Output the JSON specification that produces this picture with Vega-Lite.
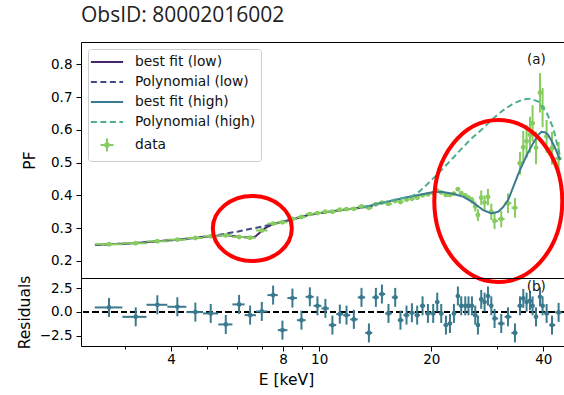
{
  "$schema": "https://vega.github.io/schema/vega-lite/v6.json",
  "padding": {"left": 16, "top": 4, "right": 0, "bottom": 0},
  "bounds": "flush",
  "title": {"text": "ObsID: 80002016002", "anchor": "start", "frame": "group", "font": "Open Sans", "fontSize": 21, "fontWeight": "normal", "color": "#222222", "offset": 16},
  "spacing": 0,
  "datasets": {
    "pts": [
      {"E": 2.725, "Elo": 2.495, "Ehi": 2.96, "pf": 0.251, "err": 0.003, "res": 0.46, "rerr": 1},
      {"E": 3.215, "Elo": 2.96, "Ehi": 3.437, "pf": 0.254, "err": 0.003, "res": -0.53, "rerr": 1},
      {"E": 3.675, "Elo": 3.437, "Ehi": 3.91, "pf": 0.26, "err": 0.003, "res": 0.74, "rerr": 1},
      {"E": 4.159, "Elo": 3.91, "Ehi": 4.397, "pf": 0.265, "err": 0.003, "res": 0.53, "rerr": 1},
      {"E": 4.649, "Elo": 4.397, "Ehi": 4.876, "pf": 0.27, "err": 0.003, "res": -0.03, "rerr": 1},
      {"E": 5.113, "Elo": 4.876, "Ehi": 5.357, "pf": 0.275, "err": 0.003, "res": -0.17, "rerr": 1},
      {"E": 5.612, "Elo": 5.357, "Ehi": 5.847, "pf": 0.278, "err": 0.003, "res": -1.33, "rerr": 1},
      {"E": 6.093, "Elo": 5.847, "Ehi": 6.304, "pf": 0.273, "err": 0.003, "res": 0.78, "rerr": 1},
      {"E": 6.522, "Elo": 6.304, "Ehi": 6.763, "pf": 0.271, "err": 0.003, "res": -0.35, "rerr": 1},
      {"E": 7.012, "Elo": 6.763, "Ehi": 7.262, "pf": 0.293, "err": 0.004, "res": 0.04, "rerr": 1},
      {"E": 7.52, "Elo": 7.262, "Ehi": 7.74, "pf": 0.314, "err": 0.004, "res": 1.76, "rerr": 1},
      {"E": 7.966, "Elo": 7.74, "Ehi": 8.215, "pf": 0.318, "err": 0.004, "res": -1.93, "rerr": 1},
      {"E": 8.474, "Elo": 8.215, "Ehi": 8.714, "pf": 0.328, "err": 0.004, "res": 1.45, "rerr": 1},
      {"E": 8.96, "Elo": 8.714, "Ehi": 9.196, "pf": 0.334, "err": 0.004, "res": -0.88, "rerr": 1},
      {"E": 9.438, "Elo": 9.196, "Ehi": 9.662, "pf": 0.343, "err": 0.004, "res": 1.58, "rerr": 1},
      {"E": 9.892, "Elo": 9.662, "Ehi": 10.14, "pf": 0.346, "err": 0.004, "res": 0.63, "rerr": 1},
      {"E": 10.39, "Elo": 10.14, "Ehi": 10.62, "pf": 0.35, "err": 0.004, "res": 0.36, "rerr": 1},
      {"E": 10.85, "Elo": 10.62, "Ehi": 11.11, "pf": 0.35, "err": 0.004, "res": -1.4, "rerr": 1},
      {"E": 11.36, "Elo": 11.11, "Ehi": 11.6, "pf": 0.356, "err": 0.004, "res": -0.24, "rerr": 1},
      {"E": 11.84, "Elo": 11.6, "Ehi": 12.11, "pf": 0.358, "err": 0.004, "res": -0.35, "rerr": 1},
      {"E": 12.39, "Elo": 12.11, "Ehi": 12.69, "pf": 0.359, "err": 0.004, "res": -0.8, "rerr": 1},
      {"E": 12.99, "Elo": 12.69, "Ehi": 13.29, "pf": 0.366, "err": 0.004, "res": 1.52, "rerr": 1},
      {"E": 13.6, "Elo": 13.29, "Ehi": 13.89, "pf": 0.362, "err": 0.004, "res": -2.22, "rerr": 1},
      {"E": 14.2, "Elo": 13.89, "Ehi": 14.46, "pf": 0.373, "err": 0.004, "res": 1.52, "rerr": 1},
      {"E": 14.74, "Elo": 14.46, "Ehi": 15.04, "pf": 0.378, "err": 0.004, "res": 1.87, "rerr": 1},
      {"E": 15.35, "Elo": 15.04, "Ehi": 15.67, "pf": 0.374, "err": 0.004, "res": -0.17, "rerr": 1},
      {"E": 16.0, "Elo": 15.67, "Ehi": 16.26, "pf": 0.383, "err": 0.004, "res": 1.52, "rerr": 1},
      {"E": 16.53, "Elo": 16.26, "Ehi": 16.84, "pf": 0.38, "err": 0.004, "res": -0.88, "rerr": 1},
      {"E": 17.16, "Elo": 16.84, "Ehi": 17.45, "pf": 0.387, "err": 0.004, "res": -0.35, "rerr": 1},
      {"E": 17.74, "Elo": 17.45, "Ehi": 18.04, "pf": 0.39, "err": 0.004, "res": -0.1, "rerr": 1},
      {"E": 18.33, "Elo": 18.04, "Ehi": 18.64, "pf": 0.393, "err": 0.004, "res": -0.35, "rerr": 1},
      {"E": 18.95, "Elo": 18.64, "Ehi": 19.26, "pf": 0.4, "err": 0.004, "res": 0.63, "rerr": 1},
      {"E": 19.59, "Elo": 19.26, "Ehi": 19.91, "pf": 0.403, "err": 0.004, "res": -0.17, "rerr": 1},
      {"E": 20.24, "Elo": 19.91, "Ehi": 20.49, "pf": 0.407, "err": 0.005, "res": -0.17, "rerr": 1},
      {"E": 20.75, "Elo": 20.49, "Ehi": 21.01, "pf": 0.414, "err": 0.005, "res": 1.02, "rerr": 1},
      {"E": 21.27, "Elo": 21.01, "Ehi": 21.58, "pf": 0.409, "err": 0.005, "res": -0.17, "rerr": 1},
      {"E": 21.9, "Elo": 21.58, "Ehi": 22.17, "pf": 0.401, "err": 0.005, "res": -1.4, "rerr": 1},
      {"E": 22.45, "Elo": 22.17, "Ehi": 22.73, "pf": 0.401, "err": 0.005, "res": -1.23, "rerr": 1},
      {"E": 23.01, "Elo": 22.73, "Ehi": 23.29, "pf": 0.405, "err": 0.005, "res": -0.17, "rerr": 1},
      {"E": 23.58, "Elo": 23.29, "Ehi": 23.83, "pf": 0.419, "err": 0.006, "res": 1.66, "rerr": 1},
      {"E": 24.07, "Elo": 23.83, "Ehi": 24.37, "pf": 0.407, "err": 0.006, "res": 0.63, "rerr": 1},
      {"E": 24.68, "Elo": 24.37, "Ehi": 24.93, "pf": 0.4, "err": 0.006, "res": 0.63, "rerr": 1},
      {"E": 25.18, "Elo": 24.93, "Ehi": 25.45, "pf": 0.393, "err": 0.007, "res": 0.63, "rerr": 1},
      {"E": 25.72, "Elo": 25.45, "Ehi": 25.98, "pf": 0.385, "err": 0.01, "res": 0.63, "rerr": 1},
      {"E": 26.25, "Elo": 25.98, "Ehi": 26.47, "pf": 0.366, "err": 0.015, "res": -0.35, "rerr": 1},
      {"E": 26.69, "Elo": 26.47, "Ehi": 26.97, "pf": 0.34, "err": 0.018, "res": -1.4, "rerr": 1},
      {"E": 27.24, "Elo": 26.97, "Ehi": 27.52, "pf": 0.393, "err": 0.022, "res": 1.31, "rerr": 1},
      {"E": 27.81, "Elo": 27.52, "Ehi": 28.1, "pf": 0.378, "err": 0.022, "res": 1.02, "rerr": 1},
      {"E": 28.4, "Elo": 28.1, "Ehi": 28.69, "pf": 0.395, "err": 0.025, "res": 1.66, "rerr": 1},
      {"E": 28.99, "Elo": 28.69, "Ehi": 29.28, "pf": 0.35, "err": 0.025, "res": 0.63, "rerr": 1},
      {"E": 29.58, "Elo": 29.28, "Ehi": 30.2, "pf": 0.322, "err": 0.025, "res": -0.7, "rerr": 1},
      {"E": 30.83, "Elo": 30.2, "Ehi": 31.48, "pf": 0.328, "err": 0.025, "res": -1.23, "rerr": 1},
      {"E": 32.14, "Elo": 31.48, "Ehi": 32.84, "pf": 0.376, "err": 0.03, "res": -0.53, "rerr": 1},
      {"E": 33.56, "Elo": 32.84, "Ehi": 34.08, "pf": 0.362, "err": 0.03, "res": -2.22, "rerr": 1},
      {"E": 34.62, "Elo": 34.08, "Ehi": 34.97, "pf": 0.498, "err": 0.035, "res": 0.63, "rerr": 1},
      {"E": 35.33, "Elo": 34.97, "Ehi": 35.69, "pf": 0.547, "err": 0.05, "res": 1.41, "rerr": 1},
      {"E": 36.06, "Elo": 35.69, "Ehi": 36.44, "pf": 0.565, "err": 0.05, "res": 1.02, "rerr": 1},
      {"E": 36.83, "Elo": 36.44, "Ehi": 37.12, "pf": 0.585, "err": 0.055, "res": 1.16, "rerr": 1},
      {"E": 37.42, "Elo": 37.12, "Ehi": 37.82, "pf": 0.62, "err": 0.055, "res": 0.63, "rerr": 1},
      {"E": 38.22, "Elo": 37.82, "Ehi": 38.69, "pf": 0.545, "err": 0.05, "res": -0.53, "rerr": 1},
      {"E": 39.18, "Elo": 38.69, "Ehi": 39.49, "pf": 0.713, "err": 0.06, "res": 1.58, "rerr": 1},
      {"E": 39.81, "Elo": 39.49, "Ehi": 40.31, "pf": 0.668, "err": 0.06, "res": 0.63, "rerr": 1},
      {"E": 40.81, "Elo": 40.31, "Ehi": 41.5, "pf": 0.58, "err": 0.05, "res": -0.17, "rerr": 1},
      {"E": 42.2, "Elo": 41.5, "Ehi": 43.07, "pf": 0.544, "err": 0.05, "res": -1.4, "rerr": 1},
      {"E": 43.96, "Elo": 43.07, "Ehi": 44.86, "pf": 0.513, "err": 0.05, "res": -0.06, "rerr": 1}
    ],
    "lowlines": [
      {"series": "best fit (low)", "E": 2.499, "pf": 0.249},
      {"series": "best fit (low)", "E": 3.162, "pf": 0.254},
      {"series": "best fit (low)", "E": 4.177, "pf": 0.265},
      {"series": "best fit (low)", "E": 5.187, "pf": 0.276},
      {"series": "best fit (low)", "E": 5.587, "pf": 0.279},
      {"series": "best fit (low)", "E": 6.055, "pf": 0.274},
      {"series": "best fit (low)", "E": 6.563, "pf": 0.271},
      {"series": "best fit (low)", "E": 6.727, "pf": 0.274},
      {"series": "best fit (low)", "E": 7.156, "pf": 0.3},
      {"series": "best fit (low)", "E": 7.52, "pf": 0.313},
      {"series": "best fit (low)", "E": 8.511, "pf": 0.327},
      {"series": "best fit (low)", "E": 9.397, "pf": 0.341},
      {"series": "best fit (low)", "E": 10.9, "pf": 0.352},
      {"series": "best fit (low)", "E": 12.4, "pf": 0.36},
      {"series": "best fit (low)", "E": 13.9, "pf": 0.368},
      {"series": "Polynomial (low)", "E": 2.499, "pf": 0.249},
      {"series": "Polynomial (low)", "E": 3.162, "pf": 0.254},
      {"series": "Polynomial (low)", "E": 4.177, "pf": 0.265},
      {"series": "Polynomial (low)", "E": 5.187, "pf": 0.277},
      {"series": "Polynomial (low)", "E": 5.587, "pf": 0.283},
      {"series": "Polynomial (low)", "E": 6.055, "pf": 0.29},
      {"series": "Polynomial (low)", "E": 6.563, "pf": 0.298},
      {"series": "Polynomial (low)", "E": 7.156, "pf": 0.307},
      {"series": "Polynomial (low)", "E": 7.52, "pf": 0.313},
      {"series": "Polynomial (low)", "E": 8.511, "pf": 0.327},
      {"series": "Polynomial (low)", "E": 9.397, "pf": 0.341},
      {"series": "Polynomial (low)", "E": 10.9, "pf": 0.352},
      {"series": "Polynomial (low)", "E": 12.4, "pf": 0.36},
      {"series": "Polynomial (low)", "E": 13.9, "pf": 0.368}
    ],
    "highlines": [
      {"series": "best fit (high)", "E": 13.13, "pf": 0.364},
      {"series": "best fit (high)", "E": 14.85, "pf": 0.378},
      {"series": "best fit (high)", "E": 16.81, "pf": 0.392},
      {"series": "best fit (high)", "E": 19.03, "pf": 0.404},
      {"series": "best fit (high)", "E": 20.24, "pf": 0.41},
      {"series": "best fit (high)", "E": 21.53, "pf": 0.41},
      {"series": "best fit (high)", "E": 22.91, "pf": 0.405},
      {"series": "best fit (high)", "E": 24.37, "pf": 0.396},
      {"series": "best fit (high)", "E": 25.93, "pf": 0.378},
      {"series": "best fit (high)", "E": 27.58, "pf": 0.355},
      {"series": "best fit (high)", "E": 28.99, "pf": 0.345},
      {"series": "best fit (high)", "E": 30.27, "pf": 0.35},
      {"series": "best fit (high)", "E": 31.22, "pf": 0.365},
      {"series": "best fit (high)", "E": 32.2, "pf": 0.387},
      {"series": "best fit (high)", "E": 33.21, "pf": 0.426},
      {"series": "best fit (high)", "E": 34.25, "pf": 0.465},
      {"series": "best fit (high)", "E": 35.33, "pf": 0.5},
      {"series": "best fit (high)", "E": 36.44, "pf": 0.532},
      {"series": "best fit (high)", "E": 37.59, "pf": 0.56},
      {"series": "best fit (high)", "E": 38.77, "pf": 0.585},
      {"series": "best fit (high)", "E": 39.57, "pf": 0.594},
      {"series": "best fit (high)", "E": 40.48, "pf": 0.592},
      {"series": "best fit (high)", "E": 41.24, "pf": 0.584},
      {"series": "best fit (high)", "E": 42.02, "pf": 0.568},
      {"series": "best fit (high)", "E": 42.99, "pf": 0.546},
      {"series": "best fit (high)", "E": 44.34, "pf": 0.508},
      {"series": "Polynomial (high)", "E": 13.13, "pf": 0.364},
      {"series": "Polynomial (high)", "E": 14.85, "pf": 0.378},
      {"series": "Polynomial (high)", "E": 16.81, "pf": 0.392},
      {"series": "Polynomial (high)", "E": 17.89, "pf": 0.4},
      {"series": "Polynomial (high)", "E": 18.64, "pf": 0.413},
      {"series": "Polynomial (high)", "E": 19.63, "pf": 0.437},
      {"series": "Polynomial (high)", "E": 20.88, "pf": 0.467},
      {"series": "Polynomial (high)", "E": 22.91, "pf": 0.515},
      {"series": "Polynomial (high)", "E": 23.92, "pf": 0.538},
      {"series": "Polynomial (high)", "E": 25.45, "pf": 0.57},
      {"series": "Polynomial (high)", "E": 27.58, "pf": 0.605},
      {"series": "Polynomial (high)", "E": 29.34, "pf": 0.635},
      {"series": "Polynomial (high)", "E": 31.22, "pf": 0.66},
      {"series": "Polynomial (high)", "E": 33.21, "pf": 0.68},
      {"series": "Polynomial (high)", "E": 35.33, "pf": 0.693},
      {"series": "Polynomial (high)", "E": 36.89, "pf": 0.695},
      {"series": "Polynomial (high)", "E": 38.77, "pf": 0.686},
      {"series": "Polynomial (high)", "E": 40.74, "pf": 0.655},
      {"series": "Polynomial (high)", "E": 42.54, "pf": 0.605},
      {"series": "Polynomial (high)", "E": 44.34, "pf": 0.52}
    ]
  },
  "vconcat": [
    {
      "width": 483,
      "height": 236,
      "layer": [
        {
          "data": {"name": "lowlines"},
          "mark": {"type": "line", "strokeWidth": 2},
          "encoding": {
            "x": {"field": "E", "type": "quantitative", "scale": {"type": "log", "domain": [2.292, 45.45], "nice": false}, "axis": null},
            "y": {"field": "pf", "type": "quantitative", "title": "PF", "scale": {"domain": [0.148, 0.868], "nice": false, "zero": false},
                  "axis": {"title": "PF", "values": [0.2, 0.3, 0.4, 0.5, 0.6, 0.7, 0.8], "format": ".1f", "titlePadding": 13, "labelOverlap": false}},
            "color": {"field": "series", "type": "nominal",
              "scale": {"domain": ["best fit (low)", "Polynomial (low)", "best fit (high)", "Polynomial (high)", "data"],
                        "range": ["#46266c", "#414a8a", "#3b7b91", "#4fae8c", "#86cc5e"]},
              "legend": {
                "title": null, "orient": "top-left", "offset": 7, "padding": 5,
                "fillColor": "white", "strokeColor": "#cccccc", "cornerRadius": 3,
                "labelFont": "DejaVu Sans", "labelFontSize": 13.8, "labelColor": "#111111",
                "symbolType": "stroke", "symbolSize": 196, "symbolStrokeWidth": 2,
                "rowPadding": 5, "labelOffset": 26,
                "encode": {
                  "symbols": {
                    "update": {
                      "shape": {"signal": "datum.value === 'data' ? 'M-1,0L1,0M0,-1L0,1M0.3,0A0.3,0.3,0,1,1,-0.3,0A0.3,0.3,0,1,1,0.3,0Z' : 'M-2.3,0L2.3,0'"},
                      "size": {"signal": "datum.value === 'data' ? 169 : 196"},
                      "x": {"value": 14},
                      "fill": {"signal": "datum.value === 'data' ? '#86cc5e' : 'transparent'"},
                      "strokeDash": {"signal": "(datum.value === 'Polynomial (low)' || datum.value === 'Polynomial (high)') ? [6, 3.5] : [1, 0]"},
                      "strokeWidth": {"value": 2}
                    }
                  }
                }
              }
            },
            "strokeDash": {"field": "series", "type": "nominal",
              "scale": {"domain": ["best fit (low)", "Polynomial (low)", "best fit (high)", "Polynomial (high)"],
                        "range": [[1, 0], [6, 3.5], [1, 0], [6, 3.5]]},
              "legend": null}
          }
        },
        {
          "data": {"name": "pts"},
          "mark": {"type": "rule", "color": "#86cc5e", "strokeWidth": 2},
          "encoding": {
            "x": {"field": "Elo", "type": "quantitative", "axis": null},
            "x2": {"field": "Ehi"},
            "y": {"field": "pf", "type": "quantitative", "title": "PF"}
          }
        },
        {
          "data": {"name": "pts"},
          "mark": {"type": "errorbar", "color": "#86cc5e", "thickness": 2},
          "encoding": {
            "x": {"field": "E", "type": "quantitative", "axis": null},
            "y": {"field": "pf", "type": "quantitative", "title": "PF"},
            "yError": {"field": "err"}
          }
        },
        {
          "data": {"name": "pts"},
          "mark": {"type": "point", "filled": true, "size": 24, "color": "#86cc5e", "opacity": 1},
          "encoding": {
            "x": {"field": "E", "type": "quantitative", "axis": null},
            "y": {"field": "pf", "type": "quantitative", "title": "PF"}
          }
        },
        {
          "data": {"name": "highlines"},
          "mark": {"type": "line", "strokeWidth": 2},
          "encoding": {
            "x": {"field": "E", "type": "quantitative", "axis": null},
            "y": {"field": "pf", "type": "quantitative", "title": "PF"},
            "color": {"field": "series", "type": "nominal"},
            "strokeDash": {"field": "series", "type": "nominal", "legend": null}
          }
        },
        {
          "data": {"values": [{"E": 38.29, "pf": 0.813, "label": "(a)"}]},
          "mark": {"type": "text", "font": "DejaVu Sans", "fontSize": 13.5, "color": "#111111"},
          "encoding": {
            "x": {"field": "E", "type": "quantitative", "axis": null},
            "y": {"field": "pf", "type": "quantitative", "title": "PF"},
            "text": {"field": "label"}
          }
        },
        {
          "data": {"values": [{"E": 6.612, "pf": 0.299}]},
          "mark": {"type": "point", "shape": "M-1,0A1,0.823,0,1,0,1,0A1,0.823,0,1,0,-1,0Z", "size": 6241, "filled": false, "stroke": "#ff0000", "strokeWidth": 4, "opacity": 1},
          "encoding": {
            "x": {"field": "E", "type": "quantitative", "axis": null},
            "y": {"field": "pf", "type": "quantitative", "title": "PF"}
          }
        },
        {
          "data": {"values": [{"E": 30.27, "pf": 0.383}]},
          "mark": {"type": "point", "shape": "M0,-1A0.79,1,0,1,0,0,1A0.79,1,0,1,0,0,-1Z", "size": 26244, "filled": false, "stroke": "#ff0000", "strokeWidth": 4, "opacity": 1},
          "encoding": {
            "x": {"field": "E", "type": "quantitative", "axis": null},
            "y": {"field": "pf", "type": "quantitative", "title": "PF"}
          }
        }
      ]
    },
    {
      "width": 483,
      "height": 68,
      "data": {"name": "pts"},
      "layer": [
        {
          "mark": {"type": "rule", "color": "#000000", "strokeWidth": 1.6, "strokeDash": [6, 3.5]},
          "encoding": {
            "y": {"datum": 0, "type": "quantitative", "title": "Residuals"}
          }
        },
        {
          "mark": {"type": "rule", "color": "#3b7a8e", "strokeWidth": 2},
          "encoding": {
            "x": {"field": "Elo", "type": "quantitative", "title": "E [keV]"},
            "x2": {"field": "Ehi"},
            "y": {"field": "res", "type": "quantitative", "title": "Residuals"}
          }
        },
        {
          "mark": {"type": "errorbar", "color": "#3b7a8e", "thickness": 2},
          "encoding": {
            "x": {"field": "E", "type": "quantitative", "title": "E [keV]"},
            "y": {"field": "res", "type": "quantitative", "title": "Residuals"},
            "yError": {"field": "rerr"}
          }
        },
        {
          "mark": {"type": "point", "filled": true, "size": 22, "color": "#3b7a8e", "opacity": 1},
          "encoding": {
            "x": {"field": "E", "type": "quantitative", "title": "E [keV]",
                  "scale": {"type": "log", "domain": [2.292, 45.45], "nice": false},
                  "axis": {"title": "E [keV]", "values": [3, 4, 5, 6, 7, 8, 9, 10, 20, 30, 40],
                           "labelExpr": "indexof([4, 8, 10, 20, 40], datum.value) >= 0 ? format(datum.value, 'd') : ''",
                           "tickSize": {"condition": {"test": "indexof([4, 8, 10, 20, 40], datum.value) >= 0", "value": 5}, "value": 3},
                           "labelPadding": 1, "labelFlush": false, "labelOverlap": false,
                           "titleX": 205, "titleY": 33, "titleBaseline": "middle"}},
            "y": {"field": "res", "type": "quantitative", "title": "Residuals",
                  "scale": {"domain": [-3.6, 3.56], "nice": false, "zero": false},
                  "axis": {"title": "Residuals", "values": [-2.5, 0, 2.5], "format": ".1f", "titlePadding": 7, "labelOverlap": false}}
          }
        },
        {
          "data": {"values": [{"E": 38.29, "res": 2.61, "label": "(b)"}]},
          "mark": {"type": "text", "font": "DejaVu Sans", "fontSize": 13.5, "color": "#111111"},
          "encoding": {
            "x": {"field": "E", "type": "quantitative", "title": "E [keV]"},
            "y": {"field": "res", "type": "quantitative", "title": "Residuals"},
            "text": {"field": "label"}
          }
        }
      ]
    }
  ],
  "config": {
    "view": {"stroke": "#000000", "strokeWidth": 1, "fill": null},
    "axis": {"domain": false, "grid": false, "tickColor": "#000000", "tickWidth": 1, "tickSize": 5,
             "labelFont": "DejaVu Sans", "labelFontSize": 13.5, "labelColor": "#000000", "labelPadding": 4,
             "labelOverlap": false, "labelSeparation": 0,
             "titleFont": "DejaVu Sans", "titleFontSize": 15.5, "titleFontWeight": "normal", "titleColor": "#000000"},
    "axisY": {"labelOverlap": false, "tickCount": 10},
    "axisQuantitative": {"labelOverlap": false}
  }
}
